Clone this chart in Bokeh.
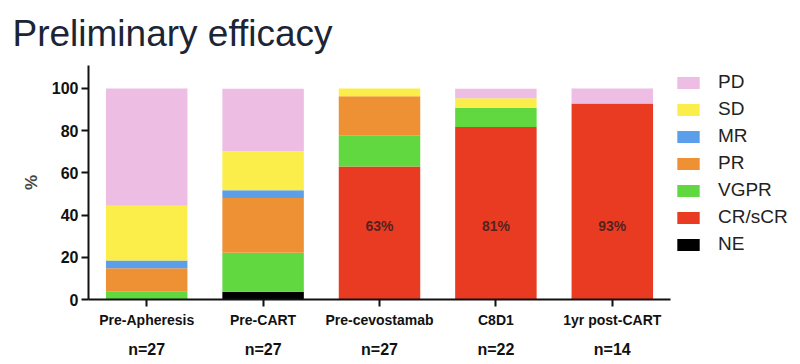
from bokeh.plotting import figure
from bokeh.models import (ColumnDataSource, Legend, LegendItem, LinearAxis,
                          Range1d, FixedTicker)
from bokeh.core.properties import value
from bokeh.embed import file_html
from bokeh.resources import INLINE

categories = ["Pre-Apheresis", "Pre-CART", "Pre-cevostamab", "C8D1", "1yr post-CART"]
n_labels = ["n=27", "n=27", "n=27", "n=22", "n=14"]

NE = [0, 3.7, 0, 0, 0]
CR = [0, 0, 63.0, 81.8, 92.9]
VGPR = [3.7, 18.5, 14.8, 9.1, 0]
PR = [11.1, 25.9, 18.5, 0, 0]
MR = [3.7, 3.7, 0, 0, 0]
SD = [25.9, 18.5, 3.7, 4.5, 0]
PD = [55.6, 29.6, 0, 4.5, 7.1]

pct_cats = ["Pre-cevostamab", "C8D1", "1yr post-CART"]
pct_text = ["63%", "81%", "93%"]
pct_y = [35, 35, 35]

y_ticks = [0, 20, 40, 60, 80, 100]
y_max = 110.9

stack_names = ["NE", "CR/sCR", "VGPR", "PR", "MR", "SD", "PD"]
stack_keys = ["NE", "CR", "VGPR", "PR", "MR", "SD", "PD"]
colors = ["#000000", "#E83B22", "#62D840", "#EE9135", "#5B9FEA", "#FBEE4A", "#EDBDE3"]

# category slots on a numeric scale (slot i is centred at i + 0.5)
xpos = [i + 0.5 for i in range(len(categories))]
pct_x = [categories.index(c) + 0.5 for c in pct_cats]

source = ColumnDataSource(dict(x=xpos, NE=NE, CR=CR, VGPR=VGPR, PR=PR,
                               MR=MR, SD=SD, PD=PD))

W, H = 792, 360
LEFT, RIGHT_EDGE, TOP, BOTTOM = 88, 790, 65, 58
frame_w = RIGHT_EDGE - LEFT
slot_px = 582 / len(categories)

p = figure(x_range=Range1d(0, frame_w / slot_px), y_range=Range1d(0, y_max),
           width=W, height=H, output_backend="svg", toolbar_location=None,
           min_border_left=LEFT, min_border_right=W - RIGHT_EDGE,
           min_border_top=TOP, min_border_bottom=BOTTOM)

p.title.text = "Preliminary efficacy"
p.title.text_font = "Liberation Sans"
p.title.text_font_size = "37px"
p.title.text_font_style = "normal"
p.title.text_color = "#1b2535"
p.title.align = "left"
p.title.vertical_align = "top"
p.title.offset = -76
p.title.standoff = 19

renderers = p.vbar_stack(stack_keys, x="x", width=0.7, color=colors,
                         line_color=None, source=source)

p.text(x=pct_x, y=pct_y, text=pct_text, text_font=value("Liberation Sans"),
       text_font_size="14px", text_font_style="bold", text_color="#3a1d1d",
       text_alpha=0.85, text_align="center", text_baseline="middle")

items = [LegendItem(label=stack_names[i], renderers=[renderers[i]])
         for i in reversed(range(len(stack_names)))]
legend = Legend(items=items, margin=0, padding=7, location=(586, 44),
                glyph_width=28, glyph_height=15, label_height=22, spacing=5,
                label_standoff=16, label_text_font="Liberation Sans",
                label_text_font_size="19px", label_text_color="#222222",
                border_line_color=None, background_fill_alpha=0)
p.add_layout(legend, "center")

p.xgrid.grid_line_color = None
p.ygrid.grid_line_color = None
p.outline_line_color = None

for ax in (p.xaxis[0], p.yaxis[0]):
    ax.axis_line_width = 2
    ax.axis_line_color = "#111111"
    ax.major_tick_line_width = 2
    ax.major_tick_line_color = "#111111"
    ax.major_tick_in = 0
    ax.major_tick_out = 7
    ax.minor_tick_line_color = None
    ax.major_label_text_font = "Liberation Sans"
    ax.major_label_text_font_style = "bold"
    ax.major_label_text_color = "#111111"

p.yaxis.ticker = FixedTicker(ticks=y_ticks)
p.yaxis.major_label_text_font_size = "16px"
p.yaxis.major_label_standoff = 3
p.yaxis.axis_label = "%"
p.yaxis.axis_label_text_font = "Liberation Sans"
p.yaxis.axis_label_text_font_size = "17px"
p.yaxis.axis_label_text_font_style = "bold"
p.yaxis.axis_label_standoff = 8

p.xaxis.ticker = FixedTicker(ticks=xpos)
p.xaxis.major_label_overrides = dict(zip(xpos, categories))
p.xaxis.bounds = (0, len(categories))
p.xaxis.major_label_text_font_size = "14px"
p.xaxis.major_label_standoff = 5

# second row of x labels (sample sizes)
n_axis = LinearAxis(ticker=FixedTicker(ticks=xpos),
                    major_label_overrides=dict(zip(xpos, n_labels)),
                    axis_line_color=None, major_tick_line_color=None,
                    minor_tick_line_color=None, major_label_standoff=4,
                    major_label_text_font="Liberation Sans",
                    major_label_text_font_style="bold",
                    major_label_text_font_size="16px",
                    major_label_text_color="#111111")
p.add_layout(n_axis, "below")

open("out.html", "w").write(file_html(p, INLINE))
